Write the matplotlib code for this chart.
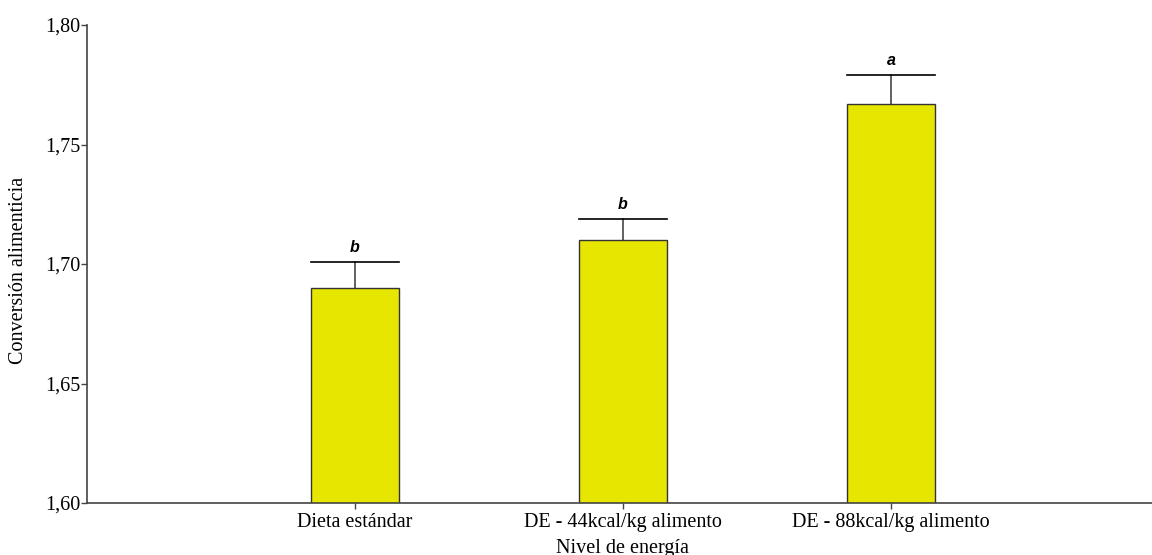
import matplotlib
matplotlib.use("Agg")
import matplotlib.pyplot as plt
from matplotlib.ticker import FuncFormatter

# data
categories = ['Dieta estándar', 'DE - 44kcal/kg alimento', 'DE - 88kcal/kg alimento']
means = [1.690, 1.710, 1.767]
errors = [0.011, 0.009, 0.012]
letters = ['b', 'b', 'a']
yticks = [1.60, 1.65, 1.70, 1.75, 1.80]

W, H = 1152, 555
fig = plt.figure(figsize=(W / 100, H / 100), dpi=100)
ax = fig.add_axes([87 / W, 52 / H, 1 - 87 / W, (503 - 25) / H])

serif = 'Liberation Serif'
fs = 14.5
x = list(range(len(categories)))
bw = 0.33

ax.bar(x, means, width=bw, color='#e6e600', edgecolor='#333333', linewidth=1, zorder=2)
for xi, m, e, lt in zip(x, means, errors, letters):
    ax.plot([xi, xi], [m, m + e], color='#555555', linewidth=1.3, zorder=1)
    ax.plot([xi - bw / 2, xi + bw / 2], [m + e, m + e], color='black', linewidth=1.2, zorder=3)
    ax.text(xi, m + e + 0.0028, lt, ha='center', va='bottom', fontsize=11.5,
            family='Liberation Sans', weight='bold', style='italic')

ax.set_xlim(-1, 2.974)
ax.set_ylim(1.60, 1.80)
ax.set_yticks(yticks)
ax.yaxis.set_major_formatter(FuncFormatter(lambda v, p: ('%.2f' % v).replace('.', ',')))
ax.set_xticks(x)
ax.set_xticklabels(categories)

for s in ['top', 'right']:
    ax.spines[s].set_visible(False)
for s in ['left', 'bottom']:
    ax.spines[s].set_color('#444444')
    ax.spines[s].set_linewidth(1.2)

ax.tick_params(axis='y', direction='out', length=4, width=1, color='#444444', pad=0.5, labelsize=fs)
ax.tick_params(axis='x', direction='out', length=4, width=1, color='#444444', pad=3, labelsize=fs)
for lab in ax.get_xticklabels() + ax.get_yticklabels():
    lab.set_family(serif)

fig.text(622 / W, 1 - 548 / H, 'Nivel de energía', ha='center', va='center', fontsize=fs, family=serif)
fig.text(19 / W, 1 - 270 / H, 'Conversión alimenticia', ha='center', va='center', rotation=90,
         fontsize=fs, family=serif)

fig.savefig('out.png', dpi=100)
